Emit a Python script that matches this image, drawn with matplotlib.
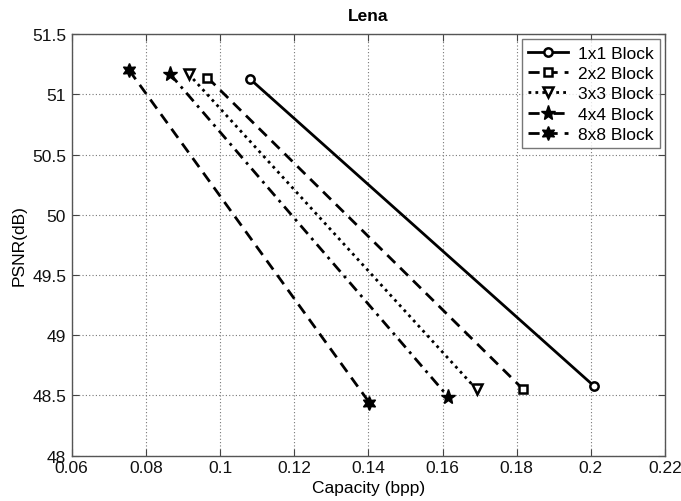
import matplotlib
matplotlib.use("Agg")
import matplotlib.pyplot as plt

plt.rcParams['font.family'] = ['Liberation Sans', 'DejaVu Sans']

labels = ["1x1 Block", "2x2 Block", "3x3 Block", "4x4 Block", "8x8 Block"]
cap_1x1 = [0.108, 0.2008]
psnr_1x1 = [51.13, 48.58]
cap_2x2 = [0.0966, 0.1818]
psnr_2x2 = [51.14, 48.55]
cap_3x3 = [0.0915, 0.1692]
psnr_3x3 = [51.17, 48.55]
cap_4x4 = [0.0865, 0.1615]
psnr_4x4 = [51.17, 48.49]
cap_8x8 = [0.0755, 0.1403]
psnr_8x8 = [51.20, 48.44]

xticks = [0.06, 0.08, 0.1, 0.12, 0.14, 0.16, 0.18, 0.2, 0.22]
xticklabels = ["0.06", "0.08", "0.1", "0.12", "0.14", "0.16", "0.18", "0.2", "0.22"]
yticks = [48, 48.5, 49, 49.5, 50, 50.5, 51, 51.5]
yticklabels = ["48", "48.5", "49", "49.5", "50", "50.5", "51", "51.5"]

fig = plt.figure(figsize=(6.81, 5.02), dpi=100)
ax = fig.add_axes([0.1053, 0.0902, 0.9765 - 0.1053, 0.930 - 0.0902])

lw = 2.0
ax.plot(cap_1x1, psnr_1x1, color='black', linestyle='-', linewidth=lw,
        marker='o', markersize=6, markerfacecolor='white', markeredgewidth=1.8, label=labels[0])
ax.plot(cap_2x2, psnr_2x2, color='black', linestyle=(0, (4, 2.5)), linewidth=lw,
        marker='s', markersize=5.5, markerfacecolor='white', markeredgewidth=1.8, label=labels[1])
ax.plot(cap_3x3, psnr_3x3, color='black', linestyle=(0, (1, 1.5)), linewidth=lw,
        marker='v', markersize=7, markerfacecolor='white', markeredgewidth=1.8, label=labels[2])
ax.plot(cap_4x4, psnr_4x4, color='black', linestyle=(0, (4, 2, 1, 2)), linewidth=lw,
        marker='*', markersize=11, markerfacecolor='black', label=labels[3])
ax.plot(cap_8x8, psnr_8x8, color='black', linestyle=(0, (4, 2.5)), linewidth=lw,
        marker=(6, 1, 0), markersize=10, markerfacecolor='black', label=labels[4])

ax.set_xlim(0.06, 0.22)
ax.set_ylim(48, 51.5)
ax.set_xticks(xticks)
ax.set_xticklabels(xticklabels)
ax.set_yticks(yticks)
ax.set_yticklabels(yticklabels)
ax.grid(True, linestyle=(0, (1, 2)), color='#777777', linewidth=0.8)
ax.tick_params(direction='in', top=True, right=True, length=5, labelsize=12.5, pad=4,
               color='#444444', labelcolor='#111111')
ax.tick_params(axis='x', pad=3)
for s in ax.spines.values():
    s.set_color('#555555')
    s.set_linewidth(1.0)

ax.set_title("Lena", fontsize=12.5, fontweight='bold', pad=10)
ax.set_xlabel("Capacity (bpp)", fontsize=12.5, labelpad=4)
ax.set_ylabel("PSNR(dB)", fontsize=12.5, labelpad=4)

leg = ax.legend(loc='upper right', fontsize=12.5, frameon=True, fancybox=False,
                edgecolor='#555555', handlelength=2.3, borderaxespad=0.3,
                labelspacing=0.3, handletextpad=0.6, borderpad=0.35)
leg.get_frame().set_linewidth(1.0)

fig.savefig("out.png", dpi=100)
